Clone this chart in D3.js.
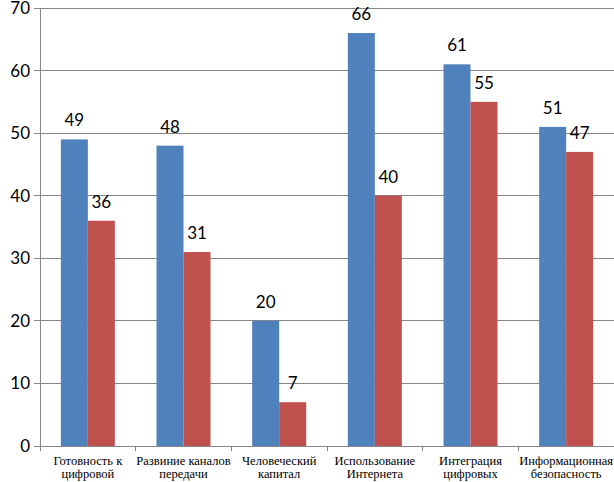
<!DOCTYPE html>
<html><head><meta charset="utf-8">
<script src="https://cdn.jsdelivr.net/npm/d3@7"></script>
<style>body{margin:0;background:#fff}svg{display:block}
.num{font-family:Lato,"Open Sans",sans-serif;font-size:17px}
</style>
</head><body>
<svg id="c" width="614" height="482"></svg>
<script>
const categories = [["Готовность к","цифровой"],["Развиние каналов","передачи"],["Человеческий","капитал"],["Использование","Интернета"],["Интеграция","цифровых"],["Информационная","безопасность"]];
const series1 = [49,48,20,66,61,51];
const series2 = [36,31,7,40,55,47];
const yTicks = [0,10,20,30,40,50,60,70];

(function(){
const svg = d3.select("#c");
const mLeft = 40, mRight = 614, mTop = 8, mBottom = 446;
const x = d3.scaleBand().domain(d3.range(categories.length)).range([mLeft, mRight]);
const y = d3.scaleLinear().domain([0,70]).range([mBottom, mTop]);
const bw = 27;

svg.append("g").selectAll("line").data(yTicks).join("line")
  .attr("x1", mLeft-6).attr("x2", mRight).attr("y1", d=>y(d)).attr("y2", d=>y(d))
  .attr("stroke", "#868686").attr("stroke-width", 1).attr("shape-rendering","crispEdges");
svg.append("g").attr("class","num").selectAll("text").data(yTicks).join("text")
  .attr("x", 30).attr("y", d=>y(d)).attr("dy","0.35em").attr("text-anchor","end")
  .attr("fill","#000").text(d=>d);

const g = svg.append("g");
g.selectAll(".b1").data(series1).join("rect").attr("class","b1")
  .attr("x",(d,i)=>x(i)+x.bandwidth()/2-bw).attr("width",bw)
  .attr("y",d=>y(d)).attr("height",d=>y(0)-y(d)).attr("fill","#4F81BD");
g.selectAll(".b2").data(series2).join("rect").attr("class","b2")
  .attr("x",(d,i)=>x(i)+x.bandwidth()/2).attr("width",bw)
  .attr("y",d=>y(d)).attr("height",d=>y(0)-y(d)).attr("fill","#C0504D");

const lab = svg.append("g").attr("class","num").attr("text-anchor","middle");
lab.selectAll(".l1").data(series1).join("text").attr("class","l1")
  .attr("x",(d,i)=>x(i)+x.bandwidth()/2-bw/2).attr("y",d=>y(d)-13).text(d=>d);
lab.selectAll(".l2").data(series2).join("text").attr("class","l2")
  .attr("x",(d,i)=>x(i)+x.bandwidth()/2+bw/2).attr("y",d=>y(d)-13).text(d=>d);

svg.append("line").attr("x1",mLeft).attr("x2",mLeft).attr("y1",mTop).attr("y2",mBottom)
  .attr("stroke","#868686").attr("shape-rendering","crispEdges");
svg.append("line").attr("x1",mLeft).attr("x2",mRight).attr("y1",mBottom).attr("y2",mBottom)
  .attr("stroke","#868686").attr("shape-rendering","crispEdges");
svg.append("g").selectAll("line").data(d3.range(categories.length+1)).join("line")
  .attr("x1",i=>mLeft+i*x.step()).attr("x2",i=>mLeft+i*x.step())
  .attr("y1",mBottom).attr("y2",mBottom+5).attr("stroke","#868686").attr("shape-rendering","crispEdges");

const cl = svg.append("g").attr("text-anchor","middle");
categories.forEach((c,i)=>{
  const cx = x(i)+x.bandwidth()/2;
  const t = cl.append("text").attr("x",cx).attr("y",465)
    .style("font-family","'Liberation Serif', 'Times New Roman', serif").style("font-size","12.5px");
  c.forEach((ln,k)=>t.append("tspan").attr("x",cx).attr("dy",k?13:0).text(ln));
});
})();
</script>
</body></html>
